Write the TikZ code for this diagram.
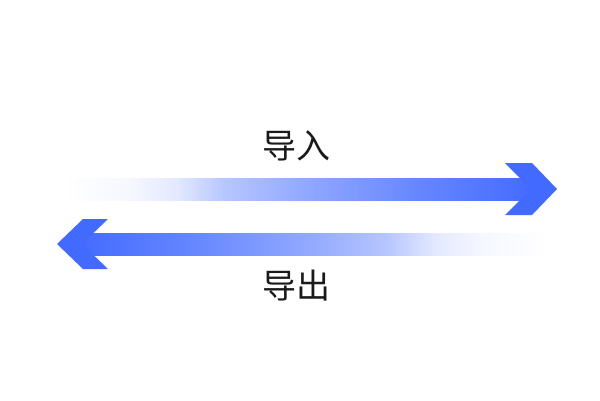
\documentclass[tikz,border=0pt]{standalone}
\usepackage{fontspec}
\newfontfamily\cjk{Noto Sans CJK SC}
\definecolor{bl}{RGB}{66,106,255}
\definecolor{txt}{RGB}{26,26,26}
\pgfdeclarehorizontalshading{fadeR}{100bp}{color(0bp)=(white); color(25bp)=(white); color(32bp)=(bl!5); color(37bp)=(bl!15); color(42bp)=(bl!38); color(50bp)=(bl!57); color(62bp)=(bl!80); color(75bp)=(bl); color(100bp)=(bl)}
\pgfdeclarehorizontalshading{fadeL}{100bp}{color(0bp)=(bl); color(25bp)=(bl); color(38bp)=(bl!80); color(50bp)=(bl!57); color(58bp)=(bl!38); color(63bp)=(bl!15); color(68bp)=(bl!5); color(75bp)=(white); color(100bp)=(white)}
\tikzset{
  head/.style={fill=bl, draw=none},
  lbl/.style={font=\cjk\fontsize{34}{34}\selectfont, text=txt, inner sep=0pt}
}
\begin{document}
\begin{tikzpicture}[x=1pt,y=-1pt]
\useasboundingbox (0,0) rectangle (600,400);
\fill[white] (0,0) rectangle (600,400);
% top arrow (import)
\shade[shading=fadeR] (63,178) rectangle (536,200);
\fill[head] (505,163) -- (532,163) -- (557,189) -- (532,215) -- (505,215) -- (531,189) -- cycle;
% bottom arrow (export)
\shade[shading=fadeL] (76,233) rectangle (548,255);
\fill[head] (108,219) -- (83,219) -- (57,244) -- (83,269) -- (108,269) -- (82,244) -- cycle;
\node[lbl] (in) at (296,146) {导入};
\node[lbl] (out) at (296,286) {导出};
\end{tikzpicture}
\end{document}
